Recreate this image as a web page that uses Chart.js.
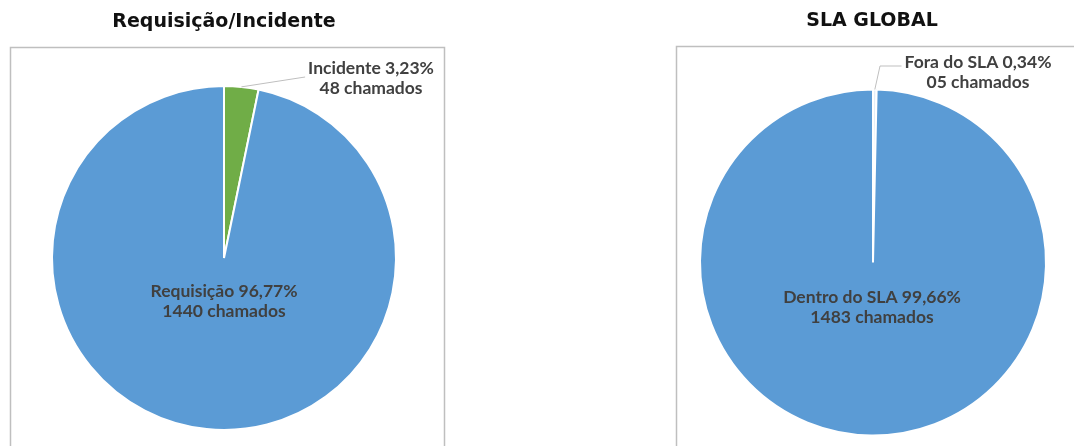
<!DOCTYPE html>
<html>
<head>
<meta charset="utf-8">
<script src="https://cdn.jsdelivr.net/npm/chart.js@4/dist/chart.umd.min.js"></script>
<style>
  html, body { margin: 0; padding: 0; background: #ffffff; }
  body { width: 1074px; height: 446px; position: relative; overflow: hidden; }
  .wrap { position: absolute; top: 0; width: 450px; height: 446px; }
  #w1 { left: 0; }
  #w2 { left: 624px; }
</style>
</head>
<body>
<div class="wrap" id="w1"><canvas id="c1"></canvas></div>
<div class="wrap" id="w2"><canvas id="c2"></canvas></div>
<script>
// Tipo de chamado
const tipoLabels = ['Incidente', 'Requisição'];
const tipoValores = [48, 1440];
const tipoPercentuais = ['3,23%', '96,77%'];
const tipoCores = ['#70AD47', '#5B9BD5'];

// Cumprimento do SLA
const slaLabels = ['Fora do SLA', 'Dentro do SLA'];
const slaValores = [5, 1483];
const slaPercentuais = ['0,34%', '99,66%'];
const slaTextoChamados = ['05 chamados', '1483 chamados'];
const slaCores = ['#E4EEF8', '#5B9BD5'];

const labelFont = 'bold 17.5px Lato, "Open Sans", sans-serif';
const titleFont = 'bold 19px "DejaVu Sans", Lato, sans-serif';
const labelColor = '#404040';

// Draws the frame, the title and the slice labels on top of a pie
function piePlugin(cfg) {
  return {
    id: 'pieDecor' + cfg.id,
    beforeDraw(chart) {
      const ctx = chart.ctx;
      ctx.save();
      ctx.strokeStyle = '#BFBFBF';
      ctx.lineWidth = 1.5;
      ctx.strokeRect(cfg.box.x, cfg.box.y, cfg.box.w, cfg.box.h);
      ctx.fillStyle = '#111111';
      ctx.font = titleFont;
      ctx.textAlign = 'center';
      ctx.textBaseline = 'middle';
      ctx.fillText(cfg.title, cfg.titleX, cfg.titleY);
      ctx.restore();
    },
    afterDatasetsDraw(chart) {
      const ctx = chart.ctx;
      const arcs = chart.getDatasetMeta(0).data;
      ctx.save();
      ctx.font = labelFont;
      ctx.fillStyle = labelColor;
      ctx.textAlign = 'center';
      ctx.textBaseline = 'middle';

      // small slice: label outside with a leader line
      const a = arcs[0];
      const mid = (a.startAngle + a.endAngle) / 2;
      const sx = a.x + Math.cos(mid) * a.outerRadius;
      const sy = a.y + Math.sin(mid) * a.outerRadius;
      const textStart = cfg.outPos[0] - ctx.measureText(cfg.outText[0]).width / 2;
      ctx.strokeStyle = '#BFBFBF';
      ctx.lineWidth = 1;
      ctx.beginPath();
      ctx.moveTo(sx, sy);
      if (cfg.elbow) ctx.lineTo(cfg.elbow[0], cfg.elbow[1]);
      ctx.lineTo(textStart - 3, cfg.leaderY);
      ctx.stroke();
      ctx.fillText(cfg.outText[0], cfg.outPos[0], cfg.outPos[1]);
      ctx.fillText(cfg.outText[1], cfg.outPos[0], cfg.outPos[1] + 20);

      // large slice: label inside the pie
      ctx.fillText(cfg.inText[0], cfg.inPos[0], cfg.inPos[1]);
      ctx.fillText(cfg.inText[1], cfg.inPos[0], cfg.inPos[1] + 20);
      ctx.restore();
    }
  };
}

function makePie(canvasId, labels, values, colors, padding, plugin) {
  return new Chart(document.getElementById(canvasId), {
    type: 'pie',
    data: {
      labels: labels,
      datasets: [{
        data: values,
        backgroundColor: colors,
        borderColor: '#ffffff',
        borderWidth: 2,
        hoverOffset: 0
      }]
    },
    options: {
      responsive: true,
      maintainAspectRatio: false,
      animation: false,
      layout: { padding: padding },
      plugins: {
        legend: { display: false },
        title: { display: false },
        tooltip: { enabled: false }
      }
    },
    plugins: [plugin]
  });
}

makePie('c1', tipoLabels, tipoValores, tipoCores,
  { left: 51, right: 53, top: 84, bottom: 14 },
  piePlugin({
    id: 1,
    box: { x: 10.5, y: 47.5, w: 434, h: 420 },
    title: 'Requisição/Incidente', titleX: 224, titleY: 22,
    leaderY: 77,
    outText: [tipoLabels[0] + ' ' + tipoPercentuais[0], tipoValores[0] + ' chamados'],
    outPos: [371, 68],
    inText: [tipoLabels[1] + ' ' + tipoPercentuais[1], tipoValores[1] + ' chamados'],
    inPos: [224, 291]
  }));

makePie('c2', slaLabels, slaValores, slaCores,
  { left: 75, right: 27, top: 88, bottom: 9 },
  piePlugin({
    id: 2,
    box: { x: 52.5, y: 46.5, w: 440, h: 420 },
    title: 'SLA GLOBAL', titleX: 248, titleY: 21,
    elbow: [256, 66], leaderY: 66,
    outText: [slaLabels[0] + ' ' + slaPercentuais[0], slaTextoChamados[0]],
    outPos: [354, 62],
    inText: [slaLabels[1] + ' ' + slaPercentuais[1], slaTextoChamados[1]],
    inPos: [248, 297]
  }));
</script>
</body>
</html>
